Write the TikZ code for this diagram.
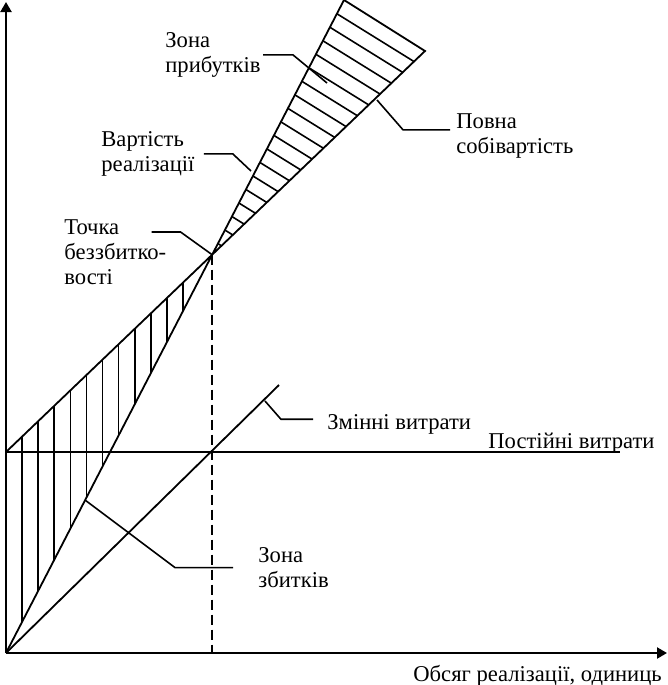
\documentclass[tikz,border=0pt]{standalone}
\usepackage{fontspec}
\setmainfont{Liberation Serif}
\usepackage{tikz}
\usetikzlibrary{arrows.meta}

\begin{document}
\begin{tikzpicture}[
    x=0.5pt, y=-0.5pt,                 % one unit = one pixel of the sketch
    >={Triangle[length=5pt,width=5.5pt]}, % arrow tip style
    axis/.style={line width=1.1pt},
    graph/.style={line width=0.9pt},
    hatch/.style={line width=0.8pt},
    leader/.style={line width=0.8pt},
    label/.style={inner sep=0pt, anchor=north west, align=left,
                  font=\fontsize{11.3pt}{12.6pt}\selectfont}]
    \useasboundingbox (0,0) rectangle (668,685);

    % Points of the graph
    \coordinate (O) at (6,653);
    \coordinate (Yend) at (6,2);
    \coordinate (Xend) at (667,653);
    \coordinate (A) at (6,452);
    \coordinate (Aend) at (620,452);
    \coordinate (RT) at (344,0);
    \coordinate (CT) at (425,51);
    \coordinate (VT) at (279,385);
    \coordinate (BE) at (intersection of O--RT and A--CT);

    % Hatching
    \begin{scope}
        \clip (BE) -- (RT) -- (CT) -- cycle;
        \foreach \i in {1,...,18}
            \draw[hatch] (150,{93-213+\i*17.86}) -- (460,{285.2-213+\i*17.86});
    \end{scope}
    \begin{scope}
        \clip (A) -- (BE) -- (O) -- cycle;
        \foreach \k in {0,...,10}
            \draw[hatch] ({22+16.1*\k},250) -- ++(0,420);
    \end{scope}

    % Axes and lines
    \draw[axis,->] (O) -- (Yend);
    \draw[axis,->] (O) -- (Xend);
    \draw[graph] (A) -- (Aend);
    \draw[graph] (O) -- (RT) -- (CT) -- (A);
    \draw[graph] (O) -- (VT);
    \draw[graph, dash pattern=on 5pt off 2.5pt] (BE) -- (BE |- O);

    % Labels
    \node[label] (zp) at (165,32) {Зона\\прибутків};
    \node[label] (vr) at (101,131) {Вартість\\реалізації};
    \node[label] (tb) at (64,219) {Точка\\беззбитко-\\вості};
    \node[label] (ps) at (456,113) {Повна\\собівартість};
    \node[label] (zv) at (327,414) {Змінні витрати};
    \node[label] (pv) at (488,433) {Постійні витрати};
    \node[label] (zz) at (258,547) {Зона\\збитків};
    \node[label] (ob) at (413,665) {Обсяг реалізації, одиниць};

    % Leader lines
    \coordinate (zpT) at (327,83);
    \coordinate (vrT) at (251,171);
    \coordinate (psT) at (377,100);
    \coordinate (zvT) at (265,401);
    \coordinate (zzT) at (85,500);
    \draw[leader] ([xshift=1pt]zp.east) -- ++(30,0) -- (zpT);
    \draw[leader] ([xshift=4.5pt]vr.east) -- ++(29,0) -- (vrT);
    \draw[leader] ([xshift=-7.5pt,yshift=-6.5pt]tb.north east) -- ++(29,0) -- (BE);
    \draw[leader] ([xshift=-3pt,yshift=3pt]ps.west) -- ++(-47,0) -- (psT);
    \draw[leader] ([xshift=-7pt,yshift=2.5pt]zv.west) -- ++(-32,0) -- (zvT);
    \draw[leader] ([xshift=-12.5pt]zz.west) -- ++(-58,0) -- (zzT);
\end{tikzpicture}
\end{document}
